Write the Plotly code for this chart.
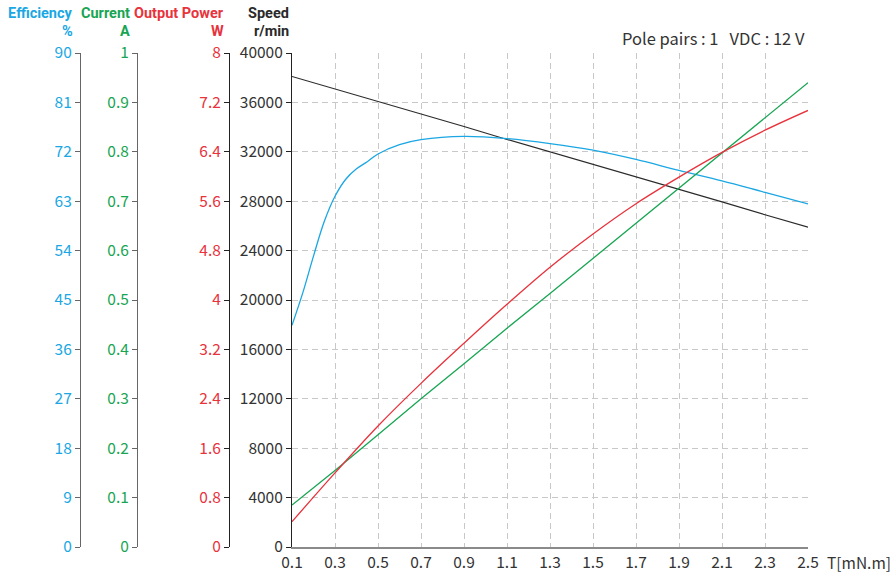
import plotly.graph_objects as go

# ---- data ----
torque = [0.1, 0.3, 0.5, 0.7, 0.9, 1.1, 1.3, 1.5, 1.7, 1.9, 2.1, 2.3, 2.5]
speed = [38100, 37100, 36100, 35050, 34050, 33000, 32000, 31000, 30000, 28950, 27950, 26900, 25900]
current = [0.085, 0.155, 0.227, 0.300, 0.371, 0.443, 0.513, 0.584, 0.655, 0.726, 0.797, 0.868, 0.940]
power = [0.41, 1.20, 1.96, 2.65, 3.30, 3.93, 4.53, 5.07, 5.56, 5.99, 6.39, 6.75, 7.07]
eff_torque = [0.1, 0.15, 0.2, 0.25, 0.3, 0.35, 0.4, 0.45, 0.5, 0.6, 0.7, 0.9, 1.1, 1.3, 1.5, 1.7, 1.9, 2.1, 2.3, 2.5]
efficiency = [40.4, 46.3, 53.0, 59.3, 63.9, 67.0, 68.9, 70.2, 71.6, 73.3, 74.2, 74.8, 74.4, 73.5, 72.3, 70.6, 68.6, 66.7, 64.6, 62.5]

x_ticks = [0.1, 0.3, 0.5, 0.7, 0.9, 1.1, 1.3, 1.5, 1.7, 1.9, 2.1, 2.3, 2.5]
x_labels = ["0.1", "0.3", "0.5", "0.7", "0.9", "1.1", "1.3", "1.5", "1.7", "1.9", "2.1", "2.3", "2.5"]
eff_ticks = [0, 9, 18, 27, 36, 45, 54, 63, 72, 81, 90]
cur_ticks = [0, 0.1, 0.2, 0.3, 0.4, 0.5, 0.6, 0.7, 0.8, 0.9, 1.0]
cur_labels = ["0", "0.1", "0.2", "0.3", "0.4", "0.5", "0.6", "0.7", "0.8", "0.9", "1"]
pow_ticks = [0, 0.8, 1.6, 2.4, 3.2, 4.0, 4.8, 5.6, 6.4, 7.2, 8.0]
pow_labels = ["0", "0.8", "1.6", "2.4", "3.2", "4", "4.8", "5.6", "6.4", "7.2", "8"]
speed_ticks = [0, 4000, 8000, 12000, 16000, 20000, 24000, 28000, 32000, 36000, 40000]
speed_labels = ["0", "4000", "8000", "12000", "16000", "20000", "24000", "28000", "32000", "36000", "40000"]

# ---- style ----
FONT = "Noto Sans CJK KR, Noto Sans, sans-serif"
TFONT = "Roboto, Noto Sans, sans-serif"
C_EFF = "#1aa7e3"
C_CUR = "#17a553"
C_POW = "#e8323c"
C_SPD = "#2a2a2a"
GRID = "#c8c8c8"
W, H = 896, 574
ML, MR, MT, MB = 0, 896 - 808, 53, 574 - 547
PW = W - ML - MR
PH = H - MT - MB


def px_x(px):
    return (px - ML) / PW


def px_y(py):
    return (H - MB - py) / PH


fig = go.Figure()
fig.add_trace(go.Scatter(x=torque, y=speed, mode="lines", line=dict(color=C_SPD, width=1.2), yaxis="y"))
fig.add_trace(go.Scatter(x=eff_torque, y=efficiency, mode="lines", line=dict(color=C_EFF, width=1.3, shape="spline"), yaxis="y2"))
fig.add_trace(go.Scatter(x=torque, y=current, mode="lines", line=dict(color=C_CUR, width=1.3), yaxis="y3"))
fig.add_trace(go.Scatter(x=torque, y=power, mode="lines", line=dict(color=C_POW, width=1.3, shape="spline"), yaxis="y4"))

TS = 15.5

fig.update_layout(
    template="none",
    width=W, height=H,
    margin=dict(l=ML, r=MR, t=MT, b=MB),
    paper_bgcolor="white", plot_bgcolor="white",
    showlegend=False,
    font=dict(family=FONT),
    xaxis=dict(
        domain=[px_x(292), 1], range=[0.1, 2.5],
        tickmode="array", tickvals=x_ticks, ticktext=x_labels,
        showgrid=True, gridcolor=GRID, griddash="6px,4px", gridwidth=1,
        showline=True, linecolor="#8a8a8a", linewidth=2,
        ticks="", zeroline=False, automargin=False,
        tickfont=dict(family=FONT, size=TS, color="#333"),
    ),
    yaxis=dict(
        range=[0, 40000], anchor="x",
        tickmode="array", tickvals=speed_ticks, ticktext=speed_labels,
        showgrid=True, gridcolor=GRID, griddash="6px,4px", gridwidth=1,
        showline=True, linecolor="#222", linewidth=1.2,
        ticks="outside", ticklen=5, tickcolor="#222",
        zeroline=False, automargin=False,
        tickfont=dict(family=FONT, size=TS, color="#333"),
    ),
    yaxis2=dict(
        range=[0, 90], overlaying="y", anchor="free", position=px_x(80), side="left",
        tickmode="array", tickvals=eff_ticks,
        showgrid=False, zeroline=False, automargin=False,
        showline=True, linecolor="#666", linewidth=1.2,
        ticks="outside", ticklen=5, tickcolor="#666",
        tickfont=dict(family=FONT, size=TS, color=C_EFF),
    ),
    yaxis3=dict(
        range=[0, 1], overlaying="y", anchor="free", position=px_x(137), side="left",
        tickmode="array", tickvals=cur_ticks, ticktext=cur_labels,
        showgrid=False, zeroline=False, automargin=False,
        showline=True, linecolor="#666", linewidth=1.2,
        ticks="outside", ticklen=5, tickcolor="#666",
        tickfont=dict(family=FONT, size=TS, color=C_CUR),
    ),
    yaxis4=dict(
        range=[0, 8], overlaying="y", anchor="free", position=px_x(229), side="left",
        tickmode="array", tickvals=pow_ticks, ticktext=pow_labels,
        showgrid=False, zeroline=False, automargin=False,
        showline=True, linecolor="#222", linewidth=1.2,
        ticks="outside", ticklen=5, tickcolor="#222",
        tickfont=dict(family=FONT, size=TS, color=C_POW),
    ),
)

titles = [
    ("Efficiency", "%", 74, C_EFF),
    ("Current", "A", 131, C_CUR),
    ("Output Power", "W", 225, C_POW),
    ("Speed", "r/min", 290, C_SPD),
]
for top, unit, xr, col in titles:
    for txt, py in ((top, 14), (unit, 31.5)):
        fig.add_annotation(
            text=txt, xref="paper", yref="paper", x=px_x(xr), y=px_y(py),
            xanchor="right", yanchor="middle", showarrow=False, borderpad=0,
            font=dict(family=TFONT, size=14.5, color=col, weight="bold"),
        )

fig.add_annotation(
    text="Pole pairs : 1   VDC : 12 V", xref="paper", yref="paper",
    x=px_x(807), y=px_y(38), xanchor="right", yanchor="middle", showarrow=False,
    font=dict(family=FONT, size=16.5, color="#333"),
)
fig.add_annotation(
    text="T[mN.m]", xref="paper", yref="paper",
    x=px_x(825), y=px_y(562), xanchor="left", yanchor="middle", showarrow=False,
    font=dict(family=FONT, size=TS, color="#333"),
)

fig.write_html(
    "out.html",
    config={"displayModeBar": False},
    post_script="document.body.style.margin='0';",
)
